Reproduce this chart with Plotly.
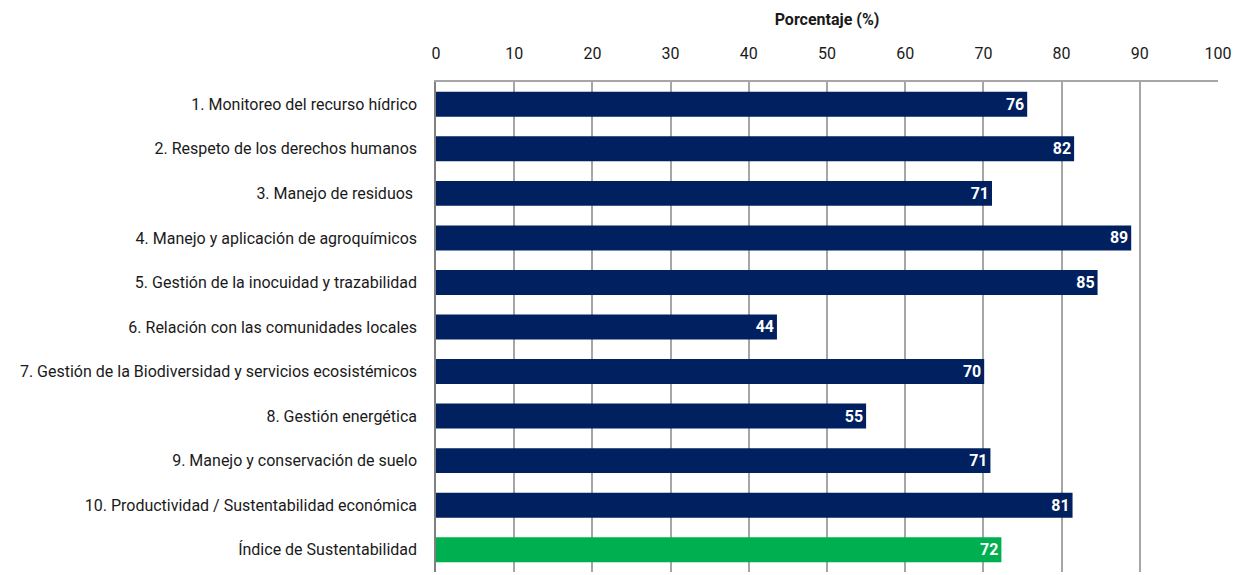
import plotly.graph_objects as go

categories = [
    "1. Monitoreo del recurso hídrico",
    "2. Respeto de los derechos humanos",
    "3. Manejo de residuos ",
    "4. Manejo y aplicación de agroquímicos",
    "5. Gestión de la inocuidad y trazabilidad",
    "6. Relación con las comunidades locales",
    "7. Gestión de la Biodiversidad y servicios ecosistémicos",
    "8. Gestión energética",
    "9. Manejo y conservación de suelo",
    "10. Productividad / Sustentabilidad económica",
    "Índice de Sustentabilidad",
]
values = [75.6, 81.6, 71.1, 88.9, 84.6, 43.6, 70.1, 55.0, 70.9, 81.4, 72.3]
labels = ["76", "82", "71", "89", "85", "44", "70", "55", "71", "81", "72"]
colors = ["#002060"] * 10 + ["#00B050"]

FONT = "Roboto, Arial, sans-serif"

fig = go.Figure(go.Bar(
    y=categories, x=values, orientation="h",
    marker=dict(color=colors, line=dict(width=0)),
    text=labels, textposition="inside", insidetextanchor="end",
    textangle=0,
    textfont=dict(color="white", size=16, family=FONT),
    texttemplate="<b>%{text}</b>",
    width=0.56,
))

fig.update_layout(
    width=1240, height=567,
    margin=dict(l=428, r=30, t=74, b=3, autoexpand=False),
    paper_bgcolor="white", plot_bgcolor="white",
    showlegend=False,
    font=dict(family=FONT, color="#1a1a1a"),
)
fig.update_xaxes(
    side="top", range=[0, 100], dtick=10, tick0=0,
    showgrid=True, gridcolor="#A6A6A6", gridwidth=1.5,
    tickfont=dict(size=16, family=FONT),
    title=dict(text="<b>Porcentaje (%)</b>", font=dict(size=16, family=FONT), standoff=14),
    showline=True, linecolor="#A6A6A6", linewidth=1.5,
    zeroline=False, ticks="", ticklabelstandoff=15,
    automargin=False,
)
fig.update_yaxes(
    autorange="reversed",
    tickfont=dict(size=16, family=FONT),
    showline=True, linecolor="#808080", linewidth=1.5,
    ticks="", ticklabelstandoff=14,
    showgrid=False, automargin=False,
)

fig.write_html("out.html")
